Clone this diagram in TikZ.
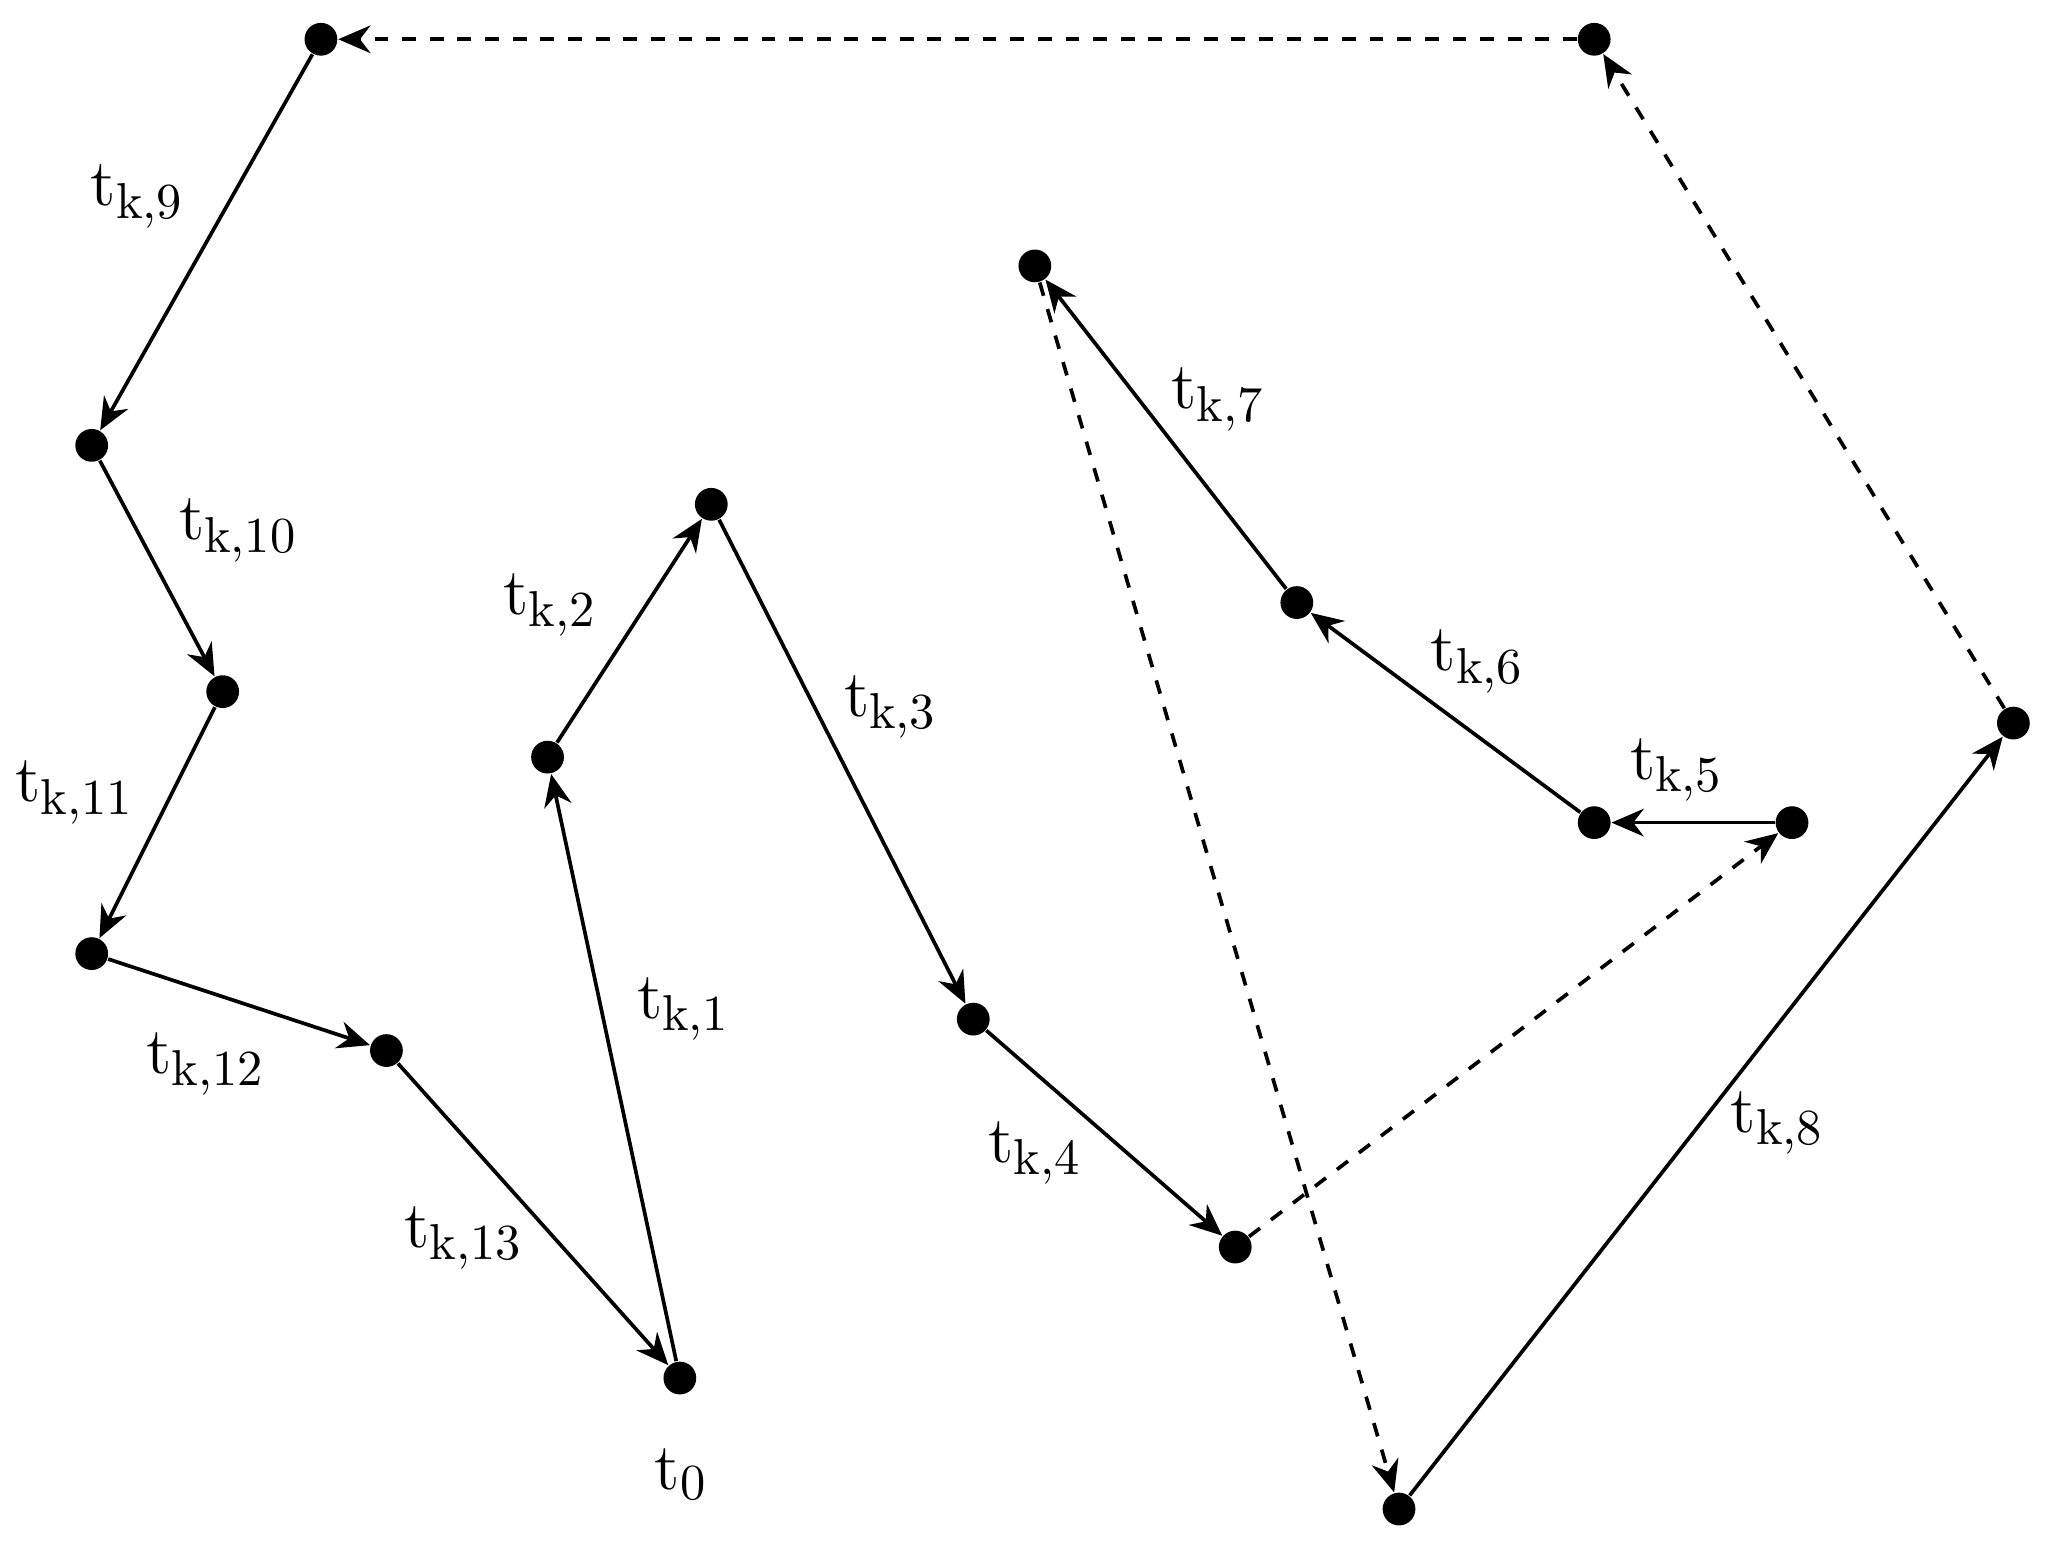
\documentclass[tikz,border=0pt]{standalone}
\usetikzlibrary{arrows.meta}
\begin{document}
\begin{tikzpicture}[x=0.01cm,y=-0.01cm,
 dot/.style={circle,fill=black,inner sep=0pt,minimum size=0.25cm},
 edge/.style={-{Stealth[length=7pt,width=6pt]},line width=0.8pt},
 dedge/.style={edge,dashed},
 lab/.style={font=\fontsize{15}{17}\selectfont}]
\useasboundingbox (0,0) rectangle (1568,1180);
\node[dot] (t0) at (519,1052) {};
\node[dot] (a1) at (418,578) {};
\node[dot] (a2) at (543,385) {};
\node[dot] (a3) at (743,778) {};
\node[dot] (a4) at (943,952) {};
\node[dot] (a5) at (1368,628) {};
\node[dot] (a6) at (1217,628) {};
\node[dot] (a7) at (990,460) {};
\node[dot] (a8) at (790,203) {};
\node[dot] (a9) at (1068,1152) {};
\node[dot] (a10) at (1537,552) {};
\node[dot] (a11) at (1217,30) {};
\node[dot] (a12) at (245,30) {};
\node[dot] (a13) at (70,340) {};
\node[dot] (a14) at (170,528) {};
\node[dot] (a15) at (70,728) {};
\node[dot] (a16) at (295,802) {};
\draw[edge] (t0) -- (a1);
\draw[edge] (a1) -- (a2);
\draw[edge] (a2) -- (a3);
\draw[edge] (a3) -- (a4);
\draw[dedge] (a4) -- (a5);
\draw[edge] (a5) -- (a6);
\draw[edge] (a6) -- (a7);
\draw[edge] (a7) -- (a8);
\draw[dedge] (a8) -- (a9);
\draw[edge] (a9) -- (a10);
\draw[dedge] (a10) -- (a11);
\draw[dedge] (a11) -- (a12);
\draw[edge] (a12) -- (a13);
\draw[edge] (a13) -- (a14);
\draw[edge] (a14) -- (a15);
\draw[edge] (a15) -- (a16);
\draw[edge] (a16) -- (t0);
\node[lab] (l9) at (105,150) {$\mathrm{t}_{\mathrm{k},9}$};
\node[lab] (l10) at (182,405) {$\mathrm{t}_{\mathrm{k},10}$};
\node[lab] (l11) at (57,605) {$\mathrm{t}_{\mathrm{k},11}$};
\node[lab] (l12) at (157,812) {$\mathrm{t}_{\mathrm{k},12}$};
\node[lab] (l13) at (354,945) {$\mathrm{t}_{\mathrm{k},13}$};
\node[lab] (l1) at (522,770) {$\mathrm{t}_{\mathrm{k},1}$};
\node[lab] (l2) at (420,462) {$\mathrm{t}_{\mathrm{k},2}$};
\node[lab] (l3) at (680,540) {$\mathrm{t}_{\mathrm{k},3}$};
\node[lab] (l4) at (790,880) {$\mathrm{t}_{\mathrm{k},4}$};
\node[lab] (l5) at (1280,588) {$\mathrm{t}_{\mathrm{k},5}$};
\node[lab] (l6) at (1128,505) {$\mathrm{t}_{\mathrm{k},6}$};
\node[lab] (l7) at (930,305) {$\mathrm{t}_{\mathrm{k},7}$};
\node[lab] (l8) at (1357,857) {$\mathrm{t}_{\mathrm{k},8}$};
\node[lab] (l0) at (520,1125) {$\mathrm{t}_{0}$};
\end{tikzpicture}
\end{document}
